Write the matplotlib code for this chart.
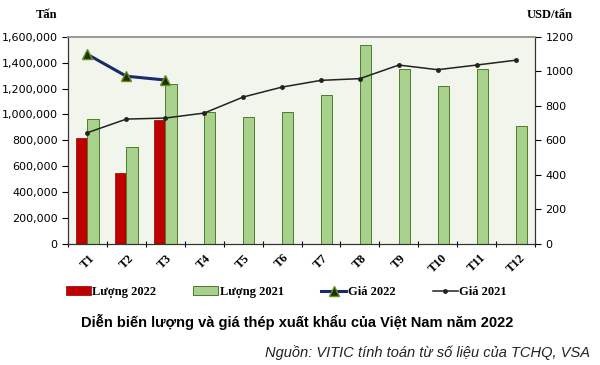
import numpy as np
import matplotlib.pyplot as plt
from matplotlib.ticker import FuncFormatter

months = ["T1", "T2", "T3", "T4", "T5", "T6", "T7", "T8", "T9", "T10", "T11", "T12"]
luong_2022 = [817000, 544000, 957000]
luong_2021 = [964000, 748000, 1236000, 1021000, 980000, 1021000, 1148000, 1538000,
              1354000, 1218000, 1354000, 908000]
gia_2022 = [1099, 972, 950]
gia_2021 = [644, 723, 729, 758, 851, 909, 948, 958, 1037, 1010, 1037, 1065]

serif = "Liberation Serif"
sans = "Liberation Sans"

fig = plt.figure(figsize=(6, 3.65), dpi=100)
ax = fig.add_axes([68 / 600, 1 - 243.5 / 365, 467 / 600, 206.5 / 365])
ax.set_facecolor("#f2f5ec")

x = np.arange(len(months))
w = 0.29
b22 = ax.bar(x[:len(luong_2022)] - w / 2, luong_2022, w, color="#c00000",
             edgecolor="#8b0000", linewidth=0.5, label="Lượng 2022")
b21 = ax.bar(x + w / 2, luong_2021, w, color="#a9d18e",
             edgecolor="#4f7a28", linewidth=0.7, label="Lượng 2021")
ax.set_xlim(-0.5, len(months) - 0.5)
ax.set_ylim(0, 1600000)
ax.set_yticks(np.arange(0, 1600001, 200000))
ax.yaxis.set_major_formatter(FuncFormatter(lambda v, p: f"{int(v):,}"))
ax.set_xticks(np.arange(-0.5, len(months), 1), minor=False)
ax.set_xticklabels([])
ax.set_xticks(x, minor=True)
ax.set_xticklabels(months, minor=True, rotation=45, fontfamily=serif,
                   fontweight="bold", fontsize=9)
ax.tick_params(axis="x", which="minor", length=0, pad=6)
ax.tick_params(axis="x", which="major", length=4, direction="inout")
ax.tick_params(axis="y", labelsize=8, length=4, direction="out")

ax2 = ax.twinx()
ax2.set_ylim(0, 1200)
ax2.set_yticks(np.arange(0, 1201, 200))
ax2.tick_params(axis="y", labelsize=8, length=4, direction="out")
l22, = ax2.plot(x[:len(gia_2022)], gia_2022, color="#1a2a6c", linewidth=2.2,
                marker="^", markersize=7, markerfacecolor="#1a3300",
                markeredgecolor="#6b8e23", label="Giá 2022")
l21, = ax2.plot(x, gia_2021, color="#222222", linewidth=1.1, marker="o",
                markersize=2.5, label="Giá 2021")

for a in (ax, ax2):
    a.spines["top"].set_color("#999999")
    a.spines["top"].set_linewidth(1.2)
    a.spines["left"].set_color("#333333")
    a.spines["right"].set_color("#333333")
    a.spines["bottom"].set_color("#333333")

fig.text(47 / 600, 1 - 15 / 365, "Tấn", fontfamily=serif, fontweight="bold",
         fontsize=9, ha="center", va="center")
fig.text(550 / 600, 1 - 15 / 365, "USD/tấn", fontfamily=serif, fontweight="bold",
         fontsize=9, ha="center", va="center")

fig.legend(handles=[b22, b21, l22, l21], loc="center", ncol=4,
           bbox_to_anchor=(286 / 600, 1 - 292 / 365), frameon=False,
           prop={"family": serif, "weight": "bold", "size": 9},
           handlelength=2.0, handletextpad=0.1, columnspacing=3.0)

fig.text(297 / 600, 1 - 322 / 365,
         "Diễn biến lượng và giá thép xuất khẩu của Việt Nam năm 2022",
         fontfamily=sans, fontweight="bold", fontsize=10.5, ha="center", va="center")
fig.text(590 / 600, 1 - 353 / 365,
         "Nguồn: VITIC tính toán từ số liệu của TCHQ, VSA",
         fontfamily=sans, style="italic", fontsize=10.5, ha="right", va="center",
         color="#222222")

fig.savefig("out.png", dpi=100)
